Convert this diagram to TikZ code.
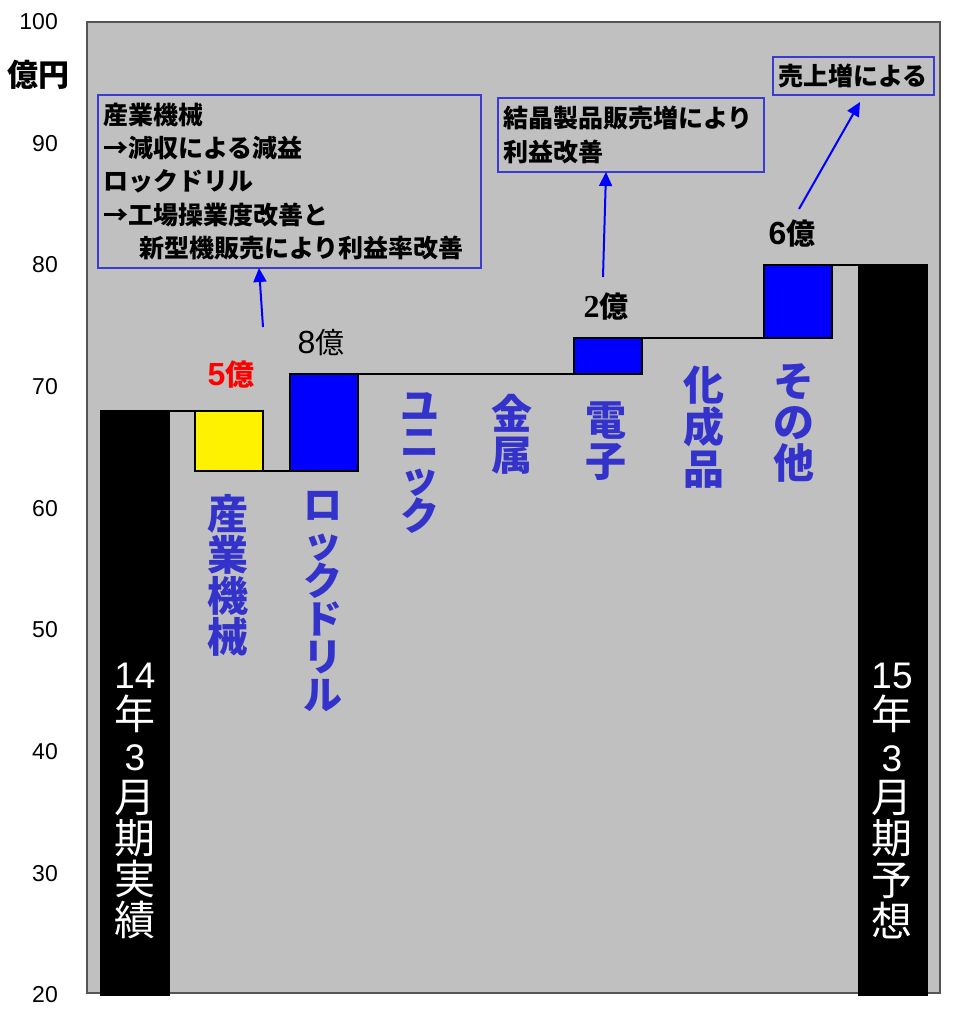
\documentclass[tikz,border=0pt]{standalone}
\usepackage{fontspec}
\setmainfont{Liberation Sans}
\newfontfamily\jp{Noto Sans CJK JP}
\newfontfamily\serifnum{Liberation Serif}
\usetikzlibrary{arrows.meta}
\definecolor{plotgray}{HTML}{C0C0C0}
\definecolor{framegray}{HTML}{555555}
\definecolor{lblblue}{HTML}{3333CC}
\definecolor{boxblue}{HTML}{3B3BD0}
\begin{document}
\begin{tikzpicture}[x=1pt,y=-1pt,
  bar/.style={draw=black, line width=2pt, inner sep=0pt, outer sep=0pt, anchor=north west},
  link/.style={draw=black, line width=2pt},
  axislbl/.style={anchor=east, inner sep=0pt, font=\fontsize{23}{23}\selectfont},
  catlbl/.style={text=lblblue, align=center, inner sep=0pt, font=\jp\bfseries\fontsize{41}{#1}\selectfont},
  katalbl/.style={text=lblblue, align=center, inner sep=0pt, font=\jp\bfseries\fontsize{39}{#1}\selectfont},
  barlbl/.style={text=white, align=center, inner sep=0pt, font=\jp\fontsize{41}{41.3}\selectfont},
  annot/.style={draw=boxblue, line width=2pt, anchor=north west, align=left, inner xsep=5pt, inner ysep=0pt, outer sep=0pt, font=\jp\bfseries\fontsize{25}{33.3}\selectfont},
  callout/.style={draw=blue, line width=2pt, -{Triangle[length=14pt,width=13pt]}},
  vallbl/.style={inner sep=0pt}
]
\useasboundingbox (0,0) rectangle (957,1009);
\fill[white] (0,0) rectangle (957,1009);
% plot area
\draw[fill=plotgray, draw=framegray, line width=1.5pt] (87,22) rectangle (940,993);

% axis labels
\node[axislbl] (y100) at (58,22) {100};
\node[axislbl] (y90) at (58,143.6) {90};
\node[axislbl] (y80) at (58,265) {80};
\node[axislbl] (y70) at (58,387) {70};
\node[axislbl] (y60) at (58,508.6) {60};
\node[axislbl] (y50) at (58,630) {50};
\node[axislbl] (y40) at (58,752) {40};
\node[axislbl] (y30) at (58,873.8) {30};
\node[axislbl] (y20) at (58,995) {20};
\node[inner sep=0pt, font=\jp\bfseries\fontsize{31}{31}\selectfont] (unit) at (39,75) {億円};

% bars
\node[bar, fill=black, minimum width=68pt, minimum height=584pt] (b14) at (101,411) {};
\node[bar, fill=yellow, minimum width=68pt, minimum height=60pt] (sangyo) at (195,411) {};
\node[bar, fill=blue, minimum width=68pt, minimum height=97pt] (rock) at (290,374) {};
\node[bar, fill=blue, minimum width=68pt, minimum height=36pt] (denshi) at (574,338) {};
\node[bar, fill=blue, minimum width=68pt, minimum height=73pt] (sonota) at (764,265) {};
\node[bar, fill=black, minimum width=68pt, minimum height=730pt] (b15) at (859,265) {};

% step connectors
\draw[link] (b14.north east) -- (sangyo.north west);
\draw[link] (sangyo.south east) -- (rock.south west);
\draw[link] (rock.north east) -- (denshi.south west);
\draw[link] (denshi.north east) -- (sonota.south west);
\draw[link] (sonota.north east) -- (b15.north west);

% bar labels
\node[barlbl] (lbl14) at (135,801) {{\fontspec{Liberation Sans}\fontsize{37}{41.3}\selectfont 14}\\年\\{\fontspec{Liberation Sans}\fontsize{37}{41.3}\selectfont 3}\\月\\期\\実\\績};
\node[barlbl] (lbl15) at (892,801) {{\fontspec{Liberation Sans}\fontsize{37}{41.3}\selectfont 15}\\年\\{\fontspec{Liberation Sans}\fontsize{37}{41.3}\selectfont 3}\\月\\期\\予\\想};

% category labels
\node[catlbl=41] (cSangyo) at (228,575) {産\\業\\機\\械};
\node[katalbl=38] (cRock) at (323,602) {ロ\\ッ\\ク\\ド\\リ\\ル};
\node[katalbl=36] (cUnic) at (420,463) {ユ\\ニ\\ッ\\ク};
\node[catlbl=41] (cKinzoku) at (512,434) {金\\属};
\node[catlbl=41] (cDenshi) at (606,441) {電\\子};
\node[catlbl=42] (cKasei) at (704,427) {化\\成\\品};
\node[catlbl=41] (cSonota) at (794,423) {そ\\の\\他};

% value labels
\node[vallbl, text=red] (v5) at (231,375) {\bfseries\fontsize{32}{32}\selectfont 5{\jp\bfseries\fontsize{29}{29}\selectfont 億}};
\node[vallbl] (v8) at (321,343) {\fontsize{32}{32}\selectfont 8{\jp\fontsize{29}{29}\selectfont 億}};
\node[vallbl] (v2) at (606,307) {{\serifnum\bfseries\fontsize{32}{32}\selectfont 2}{\jp\bfseries\fontsize{29}{29}\selectfont 億}};
\node[vallbl] (v6) at (792,234) {\bfseries\fontsize{32}{32}\selectfont 6{\jp\bfseries\fontsize{29}{29}\selectfont 億}};

% annotation boxes
\node[annot, text width=373pt, minimum height=173pt] (box1) at (98,95) {産業機械\\→減収による減益\\ロックドリル\\→工場操業度改善と\\\hspace*{36pt}新型機販売により利益率改善};
\node[annot, text width=256pt, minimum height=74pt] (box2) at (498,98) {結晶製品販売増により\\利益改善};
\node[annot, text width=151pt, minimum height=38pt] (box3) at (773,57) {売上増による};

% callout arrows
\coordinate (c1) at (263,327);
\coordinate (c2) at (603,277);
\coordinate (c3) at (799,209);
\draw[callout] (c1) -- ([xshift=161pt]box1.south west);
\draw[callout] (c2) -- ([xshift=108pt]box2.south west);
\draw[callout] (c3) -- ([xshift=87pt,yshift=-7pt]box3.south west);
\end{tikzpicture}
\end{document}
